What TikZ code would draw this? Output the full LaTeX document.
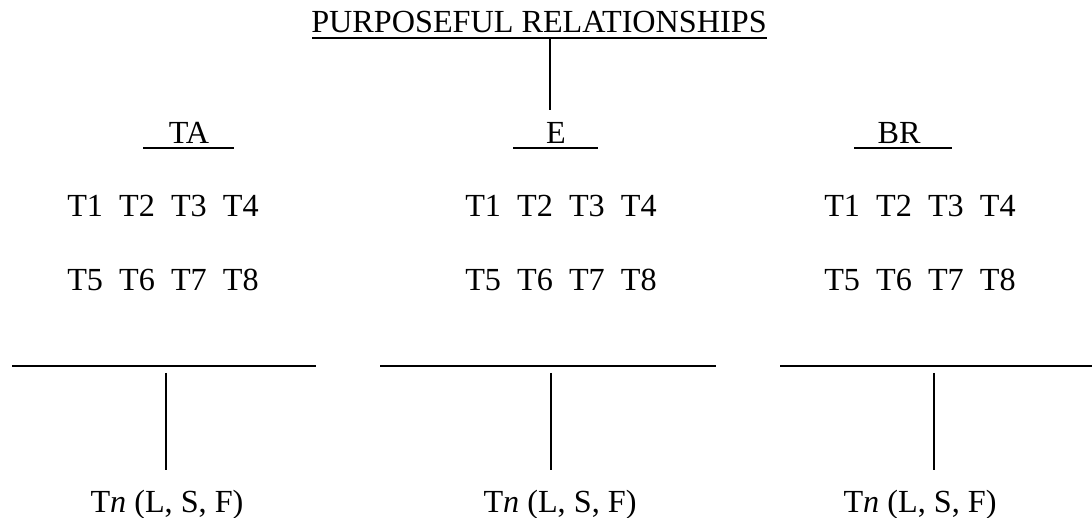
\documentclass[tikz,border=0pt]{standalone}
\usepackage{fontspec}
\setmainfont{Liberation Serif}
\begin{document}
\begin{tikzpicture}[x=1pt,y=-1pt,
  lbl/.style={inner sep=0pt, anchor=base, font=\fontsize{32.2}{38}\selectfont},
  rule/.style={line width=1.4pt},
  conn/.style={line width=1.3pt}]
\useasboundingbox (0,0) rectangle (1092,518);
\newcommand{\gp}{\hspace{0.5em}}
% title
\node[lbl] (title) at (539,33) {PURPOSEFUL RELATIONSHIPS};
\coordinate (tl) at (312,38);
\coordinate (tr) at (767,38);
\draw[rule] (tl) -- (tr);
\coordinate (tbot) at (550,38);
\coordinate (tend) at (550,110);
\draw[conn] (tbot) -- (tend);
% headers
\node[lbl] (hTA) at (189,144) {TA};
\node[lbl] (hE) at (556,144) {E};
\node[lbl] (hBR) at (899,144) {BR};
\draw[rule] (143,148) coordinate (ta1) -- (234,148) coordinate (ta2);
\draw[rule] (513,148) coordinate (e1) -- (598,148) coordinate (e2);
\draw[rule] (854,148) coordinate (b1) -- (952,148) coordinate (b2);
% rows
\foreach \n/\cx in {A/163, B/561, C/920}{
  \node[lbl] (r1\n) at (\cx,217) {T1\gp T2\gp T3\gp T4};
  \node[lbl] (r2\n) at (\cx,291) {T5\gp T6\gp T7\gp T8};
}
% bottom rules
\draw[rule] (12,366) coordinate (l1) -- (316,366) coordinate (l2);
\draw[rule] (380,366) coordinate (m1) -- (716,366) coordinate (m2);
\draw[rule] (780,366) coordinate (q1) -- (1092,366) coordinate (q2);
% Tn labels
\node[lbl] (tnA) at (167,512) {T\textit{n} (L, S, F)};
\node[lbl] (tnB) at (560,512) {T\textit{n} (L, S, F)};
\node[lbl] (tnC) at (920,512) {T\textit{n} (L, S, F)};
\coordinate (vA1) at (166,373); \coordinate (vA2) at (166,470);
\coordinate (vB1) at (551,373); \coordinate (vB2) at (551,470);
\coordinate (vC1) at (934,373); \coordinate (vC2) at (934,470);
\draw[conn] (vA1) -- (vA2);
\draw[conn] (vB1) -- (vB2);
\draw[conn] (vC1) -- (vC2);
\end{tikzpicture}
\end{document}
